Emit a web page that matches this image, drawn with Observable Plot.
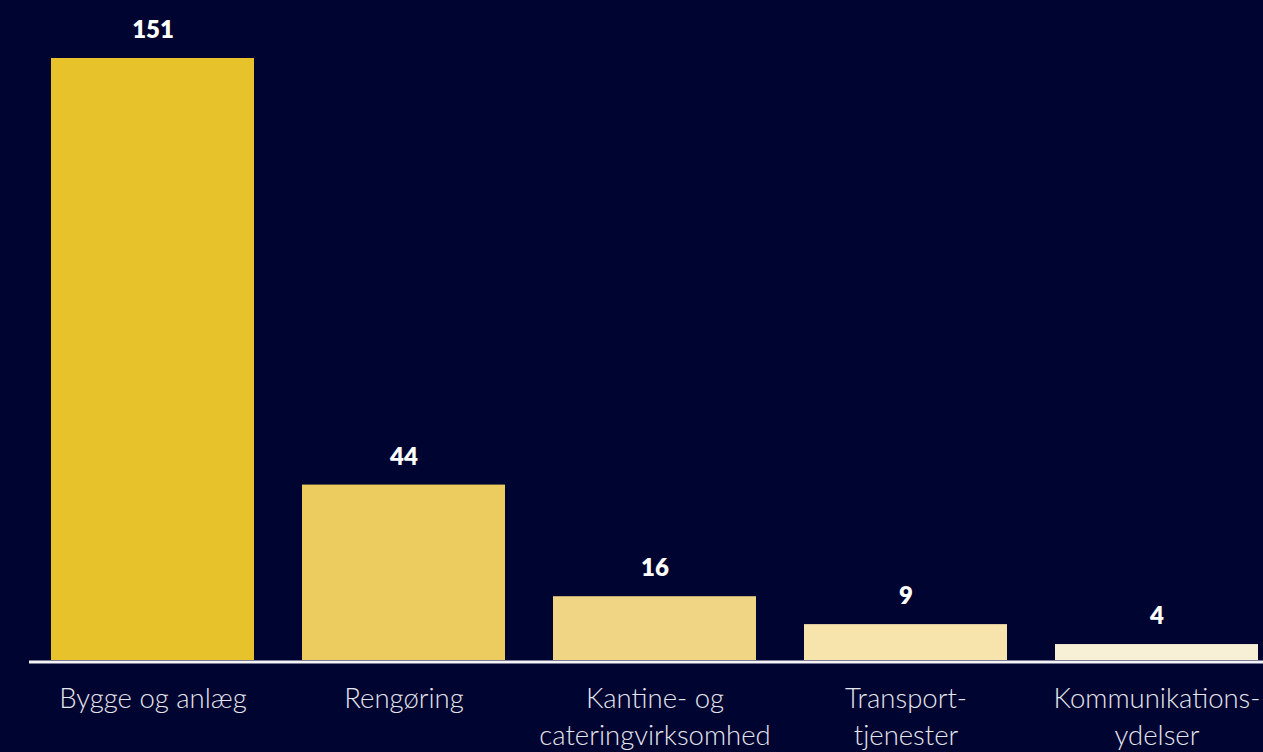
<!DOCTYPE html>
<html>
<head>
<meta charset="utf-8">
<script src="https://cdn.jsdelivr.net/npm/d3@7"></script>
<script src="https://cdn.jsdelivr.net/npm/@observablehq/plot@0.6"></script>
<style>
  html, body { margin: 0; padding: 0; background: #000430; overflow: hidden; }
</style>
</head>
<body>
<div id="chart"></div>
<script>
const categories = ["Bygge og anlæg", "Rengøring", "Kantine- og\ncateringvirksomhed", "Transport-\ntjenester", "Kommunikations-\nydelser"];
const values = [151, 44, 16, 9, 4];
const colors = ["#E8C22A", "#ECCB5F", "#F0D585", "#F6E4AC", "#F8F0D6"];

const data = categories.map((c, i) => ({category: c, value: values[i], color: colors[i]}));

const chart = Plot.plot({
  width: 1263,
  height: 752,
  marginLeft: 29,
  marginRight: 0,
  marginTop: 58,
  marginBottom: 92,
  style: {background: "#000430", overflow: "visible"},
  x: {type: "band", domain: categories, range: [26, 1283], paddingInner: 0.19, paddingOuter: 0.095, axis: null},
  y: {domain: [0, 151], range: [660, 58], axis: null},
  color: {type: "identity"},
  marks: [
    Plot.barY(data, {x: "category", y: "value", fill: "color"}),
    Plot.ruleY([0], {stroke: "#f4f4f8", strokeWidth: 3, dy: 1.5}),
    Plot.text(data, {x: "category", y: "value", text: d => String(d.value), dy: -28,
      fill: "white", fontSize: 24, fontWeight: 800, fontFamily: "Lato, 'Open Sans', sans-serif"}),
    Plot.text(data, {x: "category", y: () => 0, text: "category", lineAnchor: "top", dy: 21, lineHeight: 1.36,
      fill: "#e6e6ee", fontSize: 27.5, fontWeight: 300, fontFamily: "Lato, 'Open Sans', sans-serif"})
  ]
});
document.getElementById("chart").append(chart);
</script>
</body>
</html>
